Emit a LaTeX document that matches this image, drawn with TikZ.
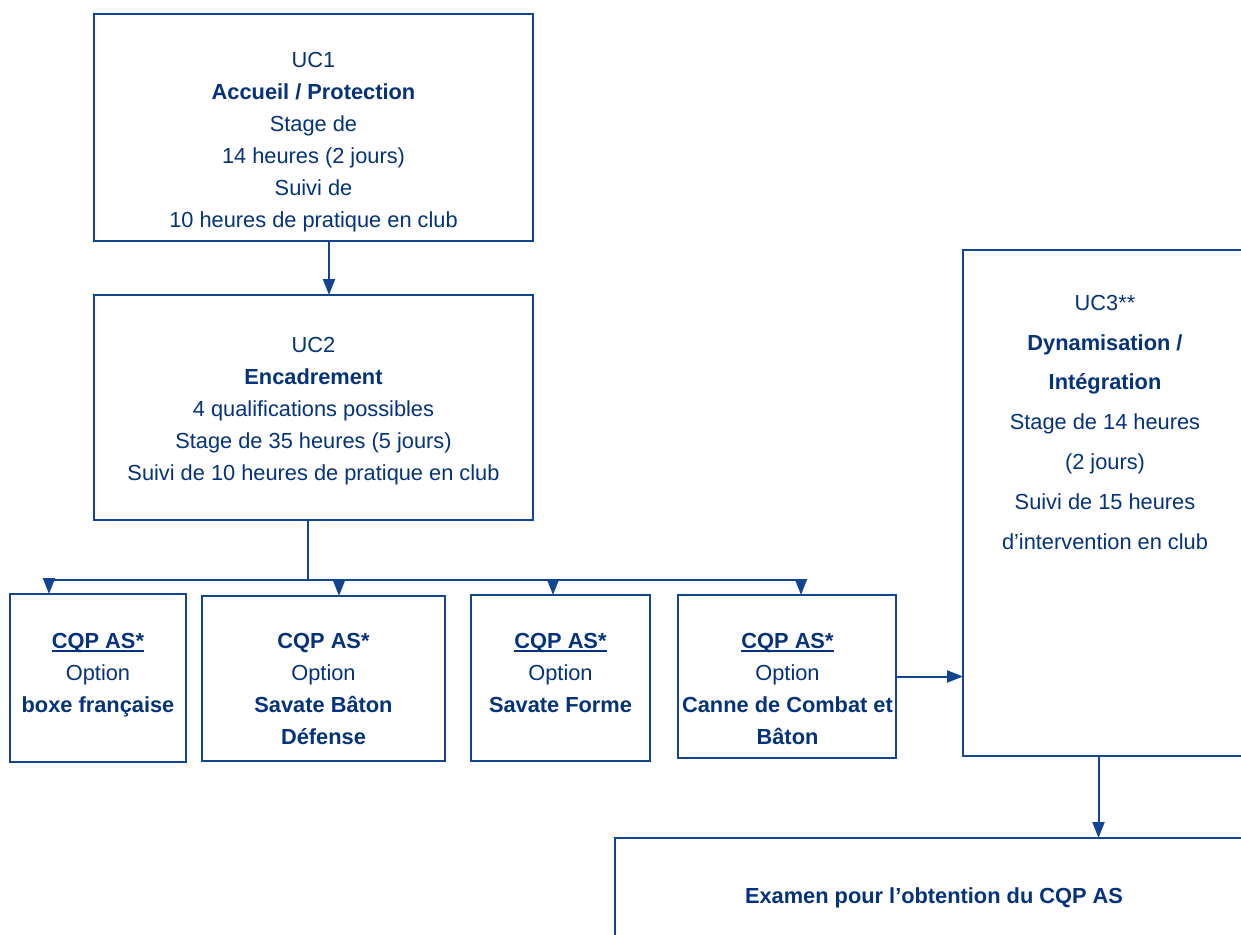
\documentclass[tikz,border=0pt]{standalone}
\usepackage{fontspec}
\setmainfont{Liberation Sans}
\usetikzlibrary{arrows.meta}
\definecolor{linecol}{RGB}{18,68,145}
\definecolor{textcol}{RGB}{4,50,124}
\newcommand\cqpul[1]{\setbox0\hbox{#1}\leavevmode\rlap{\rule[-3.6pt]{\wd0}{1.6pt}}\box0}
\begin{document}
\begin{tikzpicture}[x=1pt,y=-1pt,
  box/.style={draw=linecol,line width=2.2pt,inner sep=0pt,outer sep=0pt},
  txt/.style={inner sep=0pt,align=center,anchor=north,text=textcol,font=\fontsize{21.8}{32}\selectfont},
  txtwide/.style={txt,font=\fontsize{21.8}{39.8}\selectfont},
  conn/.style={draw=linecol,line width=2pt},
  tip/.style={conn,-{Triangle[length=16pt,width=12pt]}}]
\fill[white] (0,0) rectangle (1241,934);
\useasboundingbox (0,0) rectangle (1241,934);
% boxes
\node[box,minimum width=439,minimum height=227] (uc1) at (313.5,127.5) {};
\node[box,minimum width=439,minimum height=225] (uc2) at (313.5,407.5) {};
\node[box,minimum width=176,minimum height=168] (b1) at (98,678) {};
\node[box,minimum width=243,minimum height=165] (b2) at (323.5,678.5) {};
\node[box,minimum width=179,minimum height=166] (b3) at (560.5,678) {};
\node[box,minimum width=218,minimum height=163] (b4) at (787,676.5) {};
\node[box,minimum width=287,minimum height=506] (uc3) at (1106.5,503) {};
\node[box,minimum width=640,minimum height=140] (exam) at (935,908) {};
% texts
\node[txt] (t1) at (313.5,43) {\rule{0pt}{24pt}UC1\\\textbf{Accueil / Protection}\\Stage de\\14 heures (2 jours)\\Suivi de\\10 heures de pratique en club};
\node[txt] (t2) at (313.5,328) {\rule{0pt}{24pt}UC2\\\textbf{Encadrement}\\4 qualifications possibles\\Stage de 35 heures (5 jours)\\Suivi de 10 heures de pratique en club};
\node[txt] (tb1) at (98,624) {\rule{0pt}{24pt}\textbf{\cqpul{CQP AS*}}\\Option\\\textbf{boxe française}};
\node[txt] (tb2) at (323.5,624) {\rule{0pt}{24pt}\textbf{CQP AS*}\\Option\\\textbf{Savate Bâton}\\\textbf{Défense}};
\node[txt] (tb3) at (560.5,624) {\rule{0pt}{24pt}\textbf{\cqpul{CQP AS*}}\\Option\\\textbf{Savate Forme}};
\node[txt] (tb4) at (787.5,624) {\rule{0pt}{24pt}\textbf{\cqpul{CQP AS*}}\\Option\\\textbf{Canne de Combat et}\\\textbf{Bâton}};
\node[txtwide] (t3) at (1105,286) {\rule{0pt}{24pt}UC3**\\\textbf{Dynamisation /}\\\textbf{Intégration}\\Stage de 14 heures\\(2 jours)\\Suivi de 15 heures\\d’intervention en club};
\node[txt] (te) at (934,879) {\rule{0pt}{24pt}\textbf{Examen pour l’obtention du CQP AS}};
% connectors
\coordinate (k1) at (329,241);
\draw[tip] (k1) -- (k1 |- uc2.north);
\coordinate (bus) at (308,580);
\draw[conn] (uc2.south -| bus) -- (bus);
\coordinate (a1) at (49,580);
\coordinate (a2) at (339,580);
\coordinate (a3) at (553,580);
\coordinate (a4) at (801,580);
\draw[conn] (a1) -- (a4);
\draw[tip] (a1) -- (a1 |- b1.north);
\draw[tip] (a2) -- (a2 |- b2.north);
\draw[tip] (a3) -- (a3 |- b3.north);
\draw[tip] (a4) -- (a4 |- b4.north);
\draw[tip] (b4.east) -- (b4.east -| uc3.west);
\coordinate (k3) at (1098.5,756);
\draw[tip] (k3) -- (k3 |- exam.north);
\end{tikzpicture}
\end{document}
